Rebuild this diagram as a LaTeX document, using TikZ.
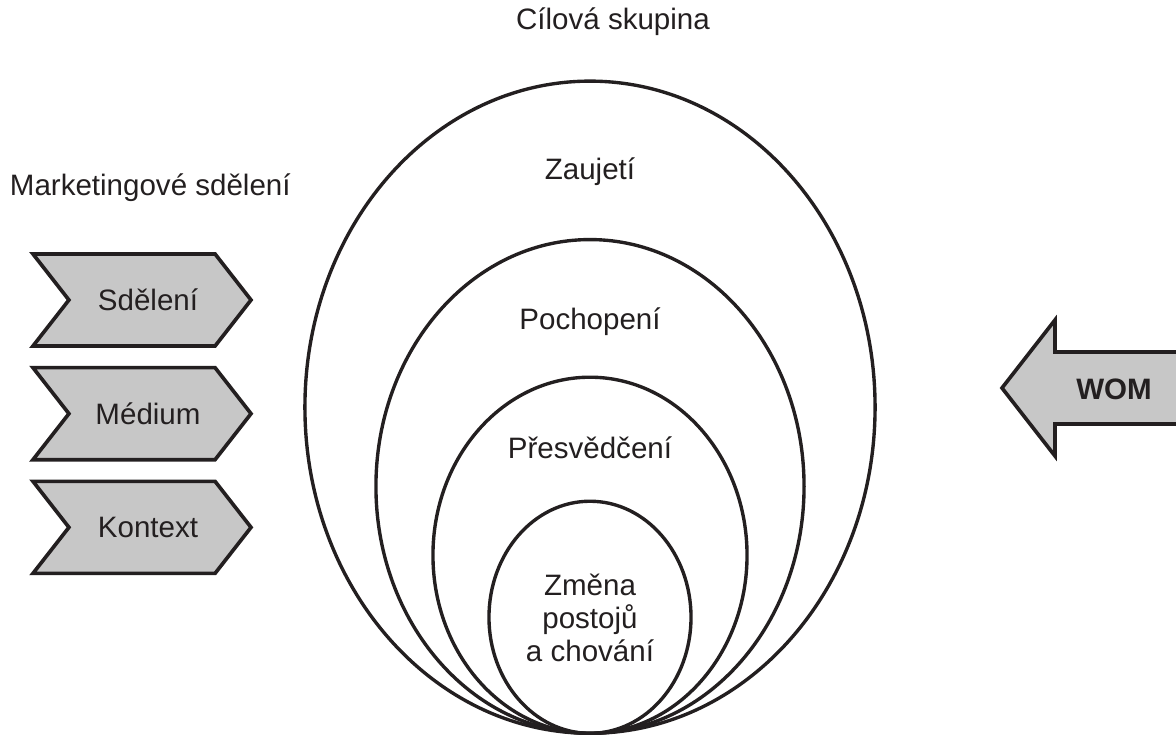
\documentclass[tikz,border=0pt]{standalone}
\usepackage{fontspec}
\setmainfont{Liberation Sans}
\usepackage{tikz}
\usetikzlibrary{shapes, positioning}
\definecolor{ink}{RGB}{35,31,32}
\definecolor{chevgray}{RGB}{199,199,199}
\tikzstyle{ring} = [ellipse, draw=ink, line width=1.2pt, inner sep=0pt, anchor=south]
\tikzstyle{chevron} = [signal, signal from=west, signal to=east, signal pointer angle=104, draw=ink, fill=chevgray, line width=1.3pt, minimum width=2.725cm, minimum height=1.15cm, text=ink, execute at begin node=\hspace*{0.15cm}]
\tikzstyle{txt} = [text=ink]
\tikzstyle{bigarrow} = [draw=ink, fill=chevgray, line width=1.3pt, line join=miter]

\begin{document}
\begin{tikzpicture}[x=0.0125cm, y=-0.0125cm, font=\fontsize{10.5}{11.75}\selectfont]
        \useasboundingbox (0,0) rectangle (1176,736);

        \coordinate (base) at (590,735);

        \node[ring, minimum width=7.125cm, minimum height=8.15cm] (r1) at (base) {};
        \node[ring, minimum width=5.35cm, minimum height=6.17cm] (r2) at (base) {};
        \node[ring, minimum width=3.925cm, minimum height=4.45cm] (r3) at (base) {};
        \node[ring, minimum width=2.525cm, minimum height=2.9cm] (r4) at (base) {};

        \node[txt] (skupina) at (613,22) {Cílová skupina};
        \node[txt] (zaujeti) at (590,172) {Zaujetí};
        \node[txt] (pochopeni) at (590,322) {Pochopení};
        \node[txt] (presvedceni) at (590,448) {Přesvědčení};
        \node[txt, align=center] (zmena) at (590,618) {Změna\\postojů\\a chování};

        \node[txt, anchor=west] (marketing) at (0,188) {Marketingové sdělení};

        \node[chevron] (sdeleni) at (142,300) {Sdělení};
        \node[chevron, below=0.225cm of sdeleni] (medium) {Médium};
        \node[chevron, below=0.225cm of medium] (kontext) {Kontext};

        \path[bigarrow] (1185,352) -- (1055,352) -- (1055,320) -- (1002,388)
                -- (1055,456) -- (1055,424) -- (1185,424);
        \node[txt, font=\fontsize{10.5}{11.75}\selectfont\bfseries] (wom) at (1114,389) {WOM};
    \end{tikzpicture}
\end{document}
